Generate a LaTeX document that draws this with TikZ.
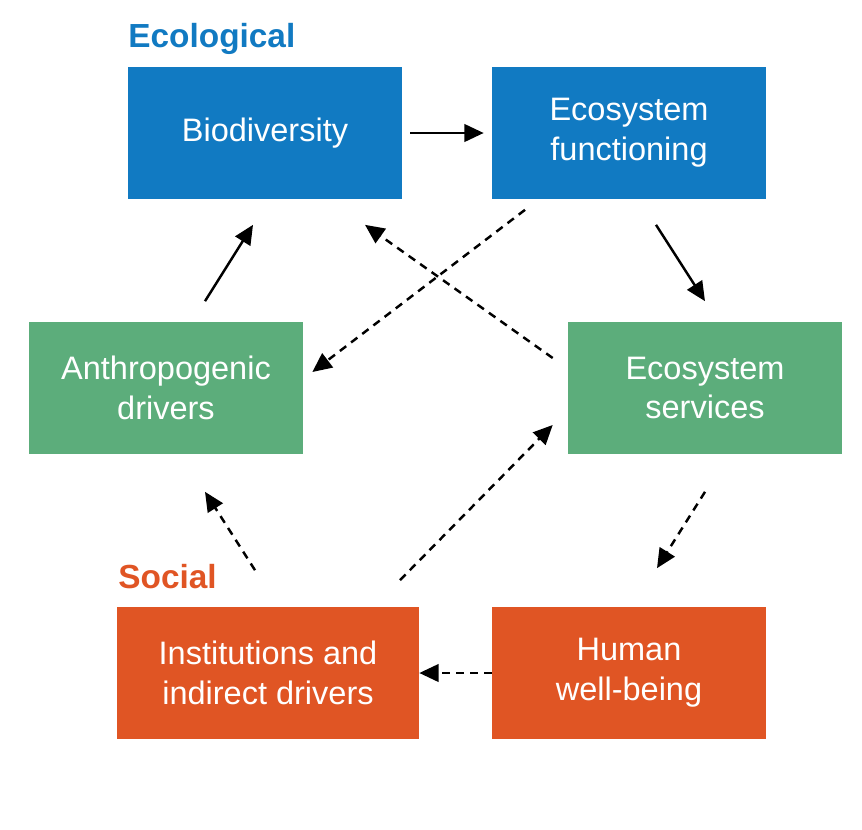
\documentclass[tikz,border=0pt]{standalone}
\usepackage{fontspec}
\setmainfont{Liberation Sans}
\usetikzlibrary{arrows.meta, calc}

\definecolor{ecoblue}{RGB}{17,122,194}
\definecolor{ecogreen}{RGB}{92,173,123}
\definecolor{socorange}{RGB}{224,85,36}

\begin{document}
\begin{tikzpicture}[
  x=0.02cm, y=-0.02cm,
  box/.style={rectangle, minimum width=5.48cm, minimum height=2.66cm, inner sep=0pt,
    text=white, align=center, font=\fontsize{18.5}{22.7}\selectfont},
  link/.style={-{Triangle[length=11pt, width=10pt]}, line width=1.4pt},
  dlink/.style={link, dash pattern=on 4.5pt off 3.5pt},
  group/.style={anchor=base west, inner sep=0pt, font=\fontsize{19}{22}\selectfont\bfseries}
]
\useasboundingbox (0,0) rectangle (862,829);
% ecological side
\node[group, text=ecoblue] (ecolab) at (128,47) {Ecological};
\node[box, fill=ecoblue] (bio) at (265,133) {Biodiversity};
\node[box, fill=ecoblue] (ef) at (629,133) {Ecosystem\\functioning};
\node[box, fill=ecogreen] (anthro) at (166,388) {Anthropogenic\\drivers};
\node[box, fill=ecogreen] (es) at (705,388) {Ecosystem\\services};
% social side
\node[group, text=socorange] (soclab) at (118,588) {Social};
\node[box, fill=socorange, minimum width=6.04cm] (inst) at (268,673) {Institutions and\\indirect drivers};
\node[box, fill=socorange] (hwb) at (629,673) {Human\\well-being};
% solid links
\draw[link, shorten <=0.16cm, shorten >=0.16cm] (bio.east) -- (ef.west);
\draw[link] ($(ef.south)+(27,25)$) -- ($(es.north)+(0,-20)$);
\draw[link] ($(anthro.north)+(39,-20)$) -- ($(bio.south)+(-12,25)$);
% dashed links
\draw[dlink] ($(ef.south)+(-104,10)$) -- ($(anthro.east)+(9,-16)$);
\draw[dlink] ($(es.west)+(-15,-30)$) -- ($(bio.south)+(100,25)$);
\draw[dlink] ($(es.south)+(0,37)$) -- ($(hwb.north)+(28,-38)$);
\draw[dlink] (hwb.west) -- (inst.east);
\draw[dlink] ($(inst.north)+(132,-26)$) -- ($(es.west)+(-15,37)$);
\draw[dlink] ($(inst.north)+(-13,-36)$) -- ($(anthro.south)+(39,37)$);
\end{tikzpicture}
\end{document}
